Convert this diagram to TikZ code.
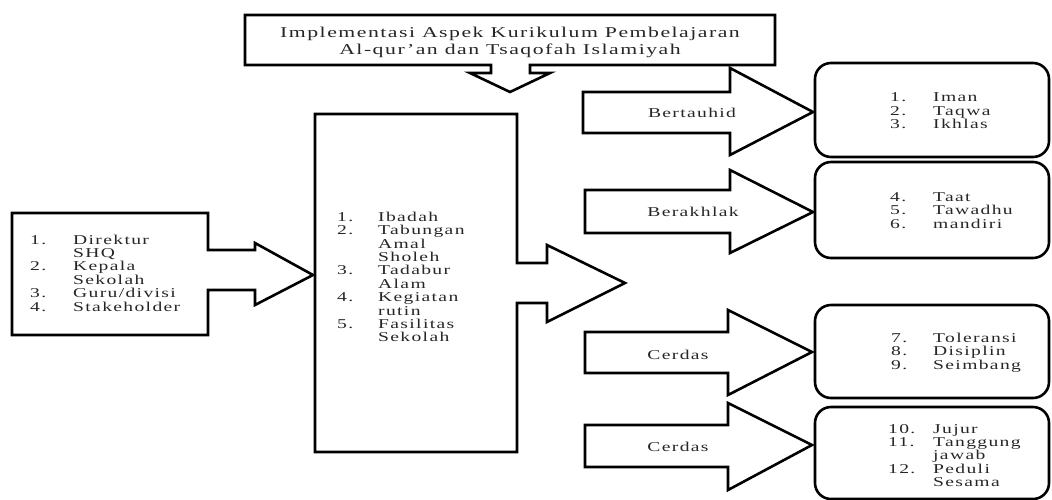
\documentclass[tikz,border=0pt]{standalone}
\usepackage{fontspec}
\setmainfont{Liberation Serif}[FakeStretch=1.45,LetterSpace=10]
\begin{document}
\begin{tikzpicture}[x=1pt,y=-1pt,
  outline/.style={draw=black,line width=2.6pt,line join=miter},
  rbox/.style={draw=black,line width=2.6pt,rounded corners=16pt,minimum width=234pt,inner sep=0pt},
  txt/.style={inner sep=0pt,align=left,text=black!85,font=\fontsize{13.5}{13.4}\selectfont},
  lbl/.style={inner sep=0pt,text=black!85,font=\fontsize{13.5}{13.4}\selectfont}]
\useasboundingbox (0,0) rectangle (1052,499);

% title box with down arrow
\draw[outline] (491,65) -- (245,65) -- (245,15) -- (775,15) -- (775,65) -- (530,65)
  -- (530,73) -- (550,73) -- (510,92) -- (470,73) -- (491,73) -- cycle;
\node[txt,align=center,font=\fontsize{15}{17}\selectfont] (title) at (510,42)
  {Implementasi Aspek Kurikulum Pembelajaran\\Al-qur'an dan Tsaqofah Islamiyah};

% left box with arrow
\draw[outline] (255,250) -- (208,250) -- (208,213) -- (12,213) -- (12,335) -- (208,335)
  -- (208,290) -- (255,290) -- (255,305) -- (313,275) -- (255,243) -- cycle;
\node[txt,anchor=west] (src) at (30,273)
  {\makebox[43pt][l]{1.}Direktur\\\hspace*{43pt}SHQ\\\makebox[43pt][l]{2.}Kepala\\\hspace*{43pt}Sekolah\\\makebox[43pt][l]{3.}Guru/divisi\\\makebox[43pt][l]{4.}Stakeholder};

% middle box with arrow
\draw[outline] (547,263) -- (517,263) -- (517,114) -- (315,114) -- (315,452) -- (517,452)
  -- (517,303) -- (547,303) -- (547,322) -- (625,283) -- (547,245) -- cycle;
\node[txt,anchor=west] (mid) at (337,277)
  {\makebox[41pt][l]{1.}Ibadah\\\makebox[41pt][l]{2.}Tabungan\\\hspace*{41pt}Amal\\\hspace*{41pt}Sholeh\\\makebox[41pt][l]{3.}Tadabur\\\hspace*{41pt}Alam\\\makebox[41pt][l]{4.}Kegiatan\\\hspace*{41pt}rutin\\\makebox[41pt][l]{5.}Fasilitas\\\hspace*{41pt}Sekolah};

% rounded boxes
\node[rbox,minimum height=94pt] (r1) at (932,110) {};
\node[rbox,minimum height=96pt] (r2) at (932,210) {};
\node[rbox,minimum height=93pt] (r3) at (932,351.5) {};
\node[rbox,minimum height=92pt] (r4) at (932,453) {};

\node[txt,anchor=west] (t1) at (890,111)
  {\makebox[43pt][l]{1.}Iman\\\makebox[43pt][l]{2.}Taqwa\\\makebox[43pt][l]{3.}Ikhlas};
\node[txt,anchor=west] (t2) at (890,210.5)
  {\makebox[43pt][l]{4.}Taat\\\makebox[43pt][l]{5.}Tawadhu\\\makebox[43pt][l]{6.}mandiri};
\node[txt,anchor=west] (t3) at (891,352.5)
  {\makebox[42pt][l]{7.}Toleransi\\\makebox[42pt][l]{8.}Disiplin\\\makebox[42pt][l]{9.}Seimbang};
\node[txt,anchor=west] (t4) at (888,455.5)
  {\makebox[45pt][l]{10.}Jujur\\\makebox[45pt][l]{11.}Tanggung\\\hspace*{45pt}jawab\\\makebox[45pt][l]{12.}Peduli\\\hspace*{45pt}Sesama};

% right block arrows
\draw[outline] (583,92) -- (730,92) -- (730,68) -- (813,112) -- (730,155) -- (730,133) -- (583,133) -- cycle;
\draw[outline] (585,190) -- (730,190) -- (730,170) -- (813,212) -- (730,253) -- (730,233) -- (585,233) -- cycle;
\draw[outline] (585,332) -- (728,332) -- (728,310) -- (812,352) -- (728,395) -- (728,373) -- (585,373) -- cycle;
\draw[outline] (585,425) -- (728,425) -- (728,403) -- (812,445) -- (728,490) -- (728,467) -- (585,467) -- cycle;

\node[lbl] (a1) at (692,113) {Bertauhid};
\node[lbl] (a2) at (693,212) {Berakhlak};
\node[lbl] (a3) at (678,355) {Cerdas};
\node[lbl] (a4) at (678,447) {Cerdas};
\end{tikzpicture}
\end{document}
